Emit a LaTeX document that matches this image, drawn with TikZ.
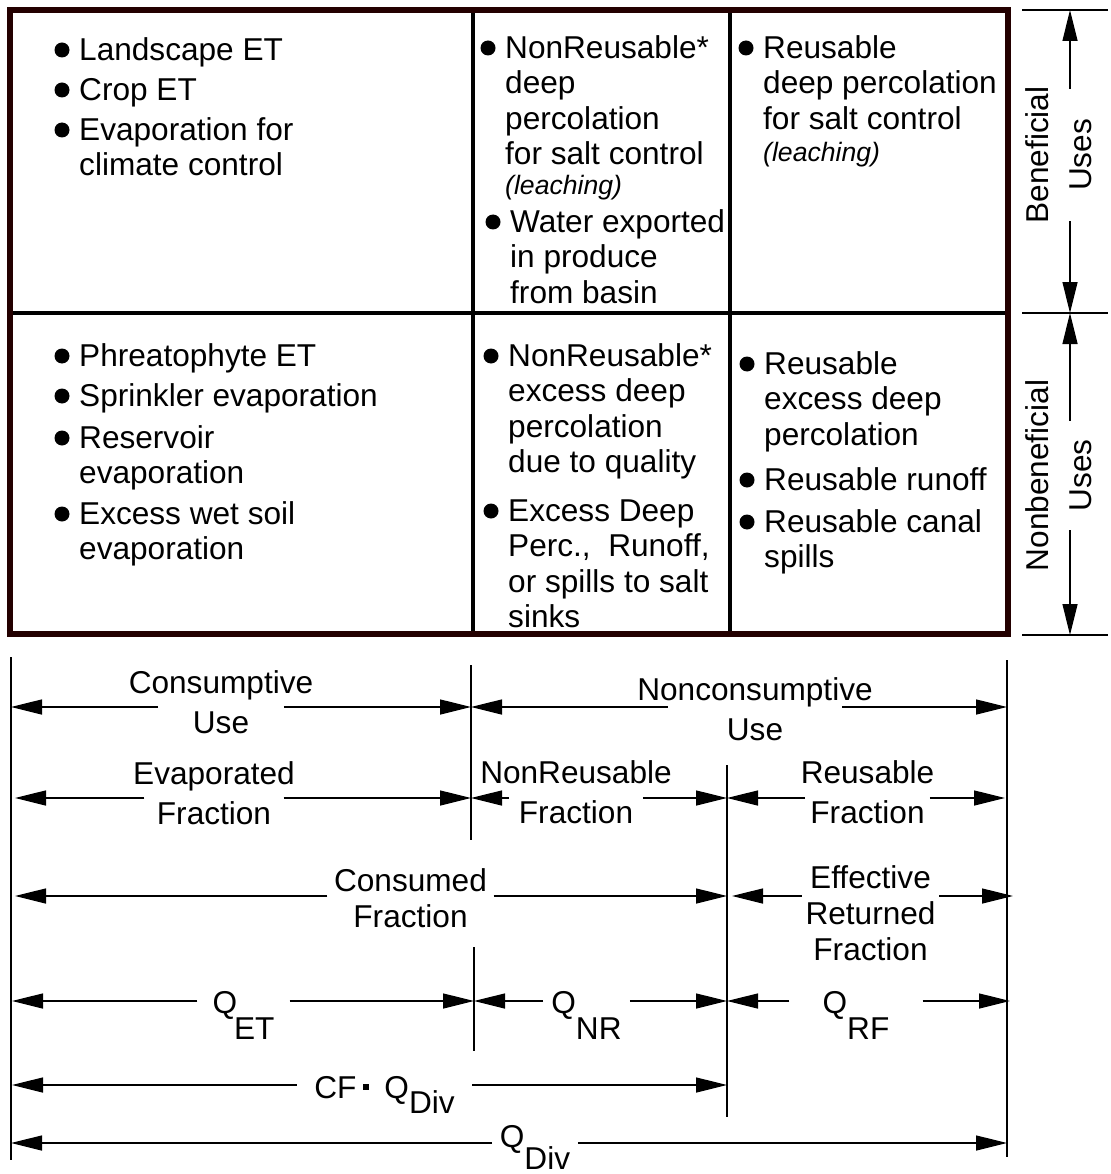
\documentclass[tikz,border=0pt]{standalone}
\usepackage{fontspec}
\setmainfont{Liberation Sans}
\usetikzlibrary{arrows.meta}
\definecolor{framered}{RGB}{35,0,0}
\tikzset{
  cell/.style={anchor=north west,yshift=24.85pt,align=left,inner sep=0pt,font=\fontsize{31.6}{35.5}\selectfont},
  note/.style={anchor=base west,inner sep=0pt,font=\fontsize{26.6}{30}\selectfont\itshape},
  lbl/.style={anchor=base,align=center,inner ysep=0pt,font=\fontsize{31.6}{40}\selectfont},
  side/.style={rotate=90,align=center,inner ysep=0pt,font=\fontsize{31.6}{43}\selectfont},
  dim/.style={line width=1.3pt,-{Triangle[length=31pt,width=15pt]}},
  ext/.style={line width=1.3pt},
}
\begin{document}
\begin{tikzpicture}[x=1pt,y=-1pt]
\useasboundingbox (0,0) rectangle (1110,1174);
% table
\draw[line width=4pt] (10,313) -- (1008,313);
\draw[line width=4pt] (473,10) -- (473,634);
\draw[line width=4pt] (730,10) -- (730,631);
\draw[framered,line width=6pt] (10,10) rectangle (1008,634);

% beneficial uses (first baseline given)
\node[cell] (tl1) at (79,60) {\strut Landscape ET};
\node[cell] (tl2) at (79,100) {\strut Crop ET};
\node[cell] (tl3) at (79,140) {\strut Evaporation for\\climate control};
\node[cell] (tm1) at (505,58) {\strut NonReusable*\\deep\\percolation\\for salt control};
\node[note] (tm1n) at (505,195) {(leaching)};
\node[cell] (tm2) at (510,232) {\strut Water exported\\in produce\\from basin};
\node[cell] (tr1) at (763,58) {\strut Reusable\\deep percolation\\for salt control};
\node[note] (tr1n) at (763,162) {(leaching)};

% nonbeneficial uses
\node[cell] (bl1) at (79,366) {\strut Phreatophyte ET};
\node[cell] (bl2) at (79,406) {\strut Sprinkler evaporation};
\node[cell] (bl3) at (79,448) {\strut Reservoir\\evaporation};
\node[cell] (bl4) at (79,524) {\strut Excess wet soil\\evaporation};
\node[cell] (bm1) at (508,366) {\strut NonReusable*\\excess deep\\percolation\\due to quality};
\node[cell] (bm2) at (508,521) {\strut Excess Deep\\Perc.,\ \ Runoff,\\or spills to salt\\sinks};
\node[cell] (br1) at (764,374) {\strut Reusable\\excess deep\\percolation};
\node[cell] (br2) at (764,490) {\strut Reusable runoff};
\node[cell] (br3) at (764,532) {\strut Reusable canal\\spills};

\foreach \n in {tl1,tl2,tl3,tm1,tm2,tr1,bl1,bl2,bl3,bl4,bm1,bm2,br1,br2,br3}
  \fill ([shift={(-17pt,-14.85pt)}]\n.north west) circle (7.5pt);

% side dimensions
\draw[ext] (1022,10) -- (1108,10);
\draw[ext] (1022,313) -- (1108,313);
\draw[ext] (1022,635) -- (1108,635);
\coordinate (bt) at (1070,10);
\coordinate (bm) at (1070,313);
\coordinate (bb) at (1070,635);
\node[side,inner xsep=-2.5pt] (ben) at (1059,155) {Beneficial\\Uses};
\node[side,inner xsep=-41pt] (nben) at (1059,475.5) {Nonbeneficial\\Uses};
\draw[dim] (ben.east -| bt) -- (bt);
\draw[dim] (ben.west -| bm) -- (bm);
\draw[dim] (nben.east -| bm) -- (bm);
\draw[dim] (nben.west -| bb) -- (bb);

% extension lines
\draw[ext] (11,657) -- (11,1160);
\draw[ext] (471,665) -- (471,840);
\draw[ext] (474,947) -- (474,1051);
\draw[ext] (727,765) -- (727,1117);
\draw[ext] (1007,660) -- (1007,1157);

% dimension ends
\coordinate (cu-l) at (11,707);   \coordinate (cu-r) at (471,707);
\coordinate (nu-l) at (471,707);  \coordinate (nu-r) at (1007,707);
\coordinate (ef-l) at (15,798);   \coordinate (ef-r) at (471,798);
\coordinate (nf-l) at (471,798);  \coordinate (nf-r) at (727,798);
\coordinate (rf-l) at (727,798);  \coordinate (rf-r) at (1005,798);
\coordinate (cf-l) at (15,896);   \coordinate (cf-r) at (727,896);
\coordinate (er-l) at (732,896);  \coordinate (er-r) at (1013,896);
\coordinate (qe-l) at (12,1001);  \coordinate (qe-r) at (474,1001);
\coordinate (qn-l) at (474,1001); \coordinate (qn-r) at (727,1001);
\coordinate (qr-l) at (727,1001); \coordinate (qr-r) at (1010,1001);
\coordinate (cd-l) at (12,1085);  \coordinate (cd-r) at (727,1085);
\coordinate (qd-l) at (11,1143);  \coordinate (qd-r) at (1007,1143);

% dimension labels (last baseline given)
\node[lbl,inner xsep=-29.5pt] (cu) at (221,733) {Consumptive\\Use};
\node[lbl,inner xsep=-30.5pt] (nu) at (755,740) {Nonconsumptive\\Use};
\node[lbl,inner xsep=-11.5pt] (ef) at (214,824) {Evaporated\\Fraction};
\node[lbl,inner xsep=-29pt] (nf) at (576,823) {NonReusable\\Fraction};
\node[lbl,inner xsep=-4.5pt] (rf) at (867.5,823) {Reusable\\Fraction};
\node[lbl,inner xsep=6.5pt,font=\fontsize{31.6}{36}\selectfont] (cf) at (410.5,927) {Consumed\\Fraction};
\node[lbl,inner xsep=3.5pt,font=\fontsize{31.6}{36}\selectfont] (er) at (870.5,960) {Effective\\Returned\\Fraction};
\node[lbl,inner xsep=15pt] (qe) at (243.5,1013) {Q\kern-3pt\lower26pt\hbox{ET}};
\node[lbl,inner xsep=8pt] (qn) at (586.5,1013) {Q\lower26pt\hbox{NR}};
\node[lbl,inner xsep=33pt] (qr) at (856,1013) {Q\lower26pt\hbox{RF}};
\node[lbl,inner xsep=17.5pt] (cd) at (384.5,1098) {CF\hspace{7pt}\raisebox{8pt}{\rule{6pt}{6pt}}\hspace{15pt}Q\lower15pt\hbox{Div}};
\node[lbl,inner xsep=7.5pt] (qd) at (535,1147) {Q\lower22pt\hbox{Div}};

\foreach \n in {cu,nu,ef,nf,rf,cf,er,qe,qn,qr,cd,qd}{
  \draw[dim] (\n.west |- \n-l) -- (\n-l);
  \draw[dim] (\n.east |- \n-r) -- (\n-r);
}
\end{tikzpicture}
\end{document}
